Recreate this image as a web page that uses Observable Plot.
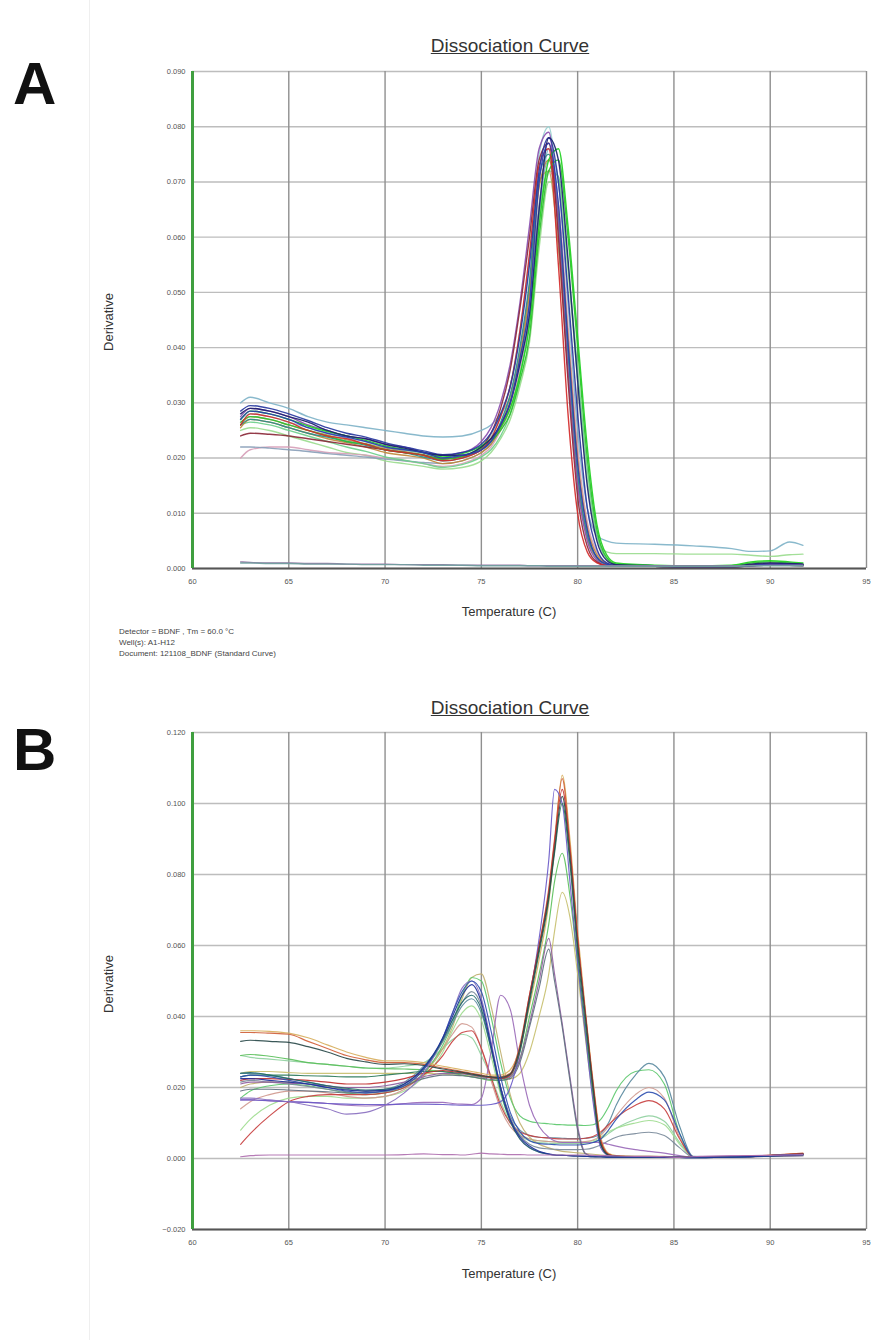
<!DOCTYPE html>
<html><head><meta charset="utf-8">
<script src="https://cdn.jsdelivr.net/npm/d3@7"></script>
<script src="https://cdn.jsdelivr.net/npm/@observablehq/plot@0.6"></script>
<style>
body{margin:0;background:#fff;font-family:"Liberation Sans",Arial,sans-serif;}
#page{position:relative;width:873px;height:1340px;overflow:hidden;background:#fff;}
.t{position:absolute;white-space:nowrap;color:#333;}
.svgwrap{position:absolute;left:0;}
</style></head>
<body><div id="page"></div>
<script>
// ---------- DATA (derivative values in units of 0.001) ----------
const xTicks = [60, 65, 70, 75, 80, 85, 90, 95];
const yTicksA = [0, 0.01, 0.02, 0.03, 0.04, 0.05, 0.06, 0.07, 0.08, 0.09];
const yTicksB = [-0.02, 0, 0.02, 0.04, 0.06, 0.08, 0.1, 0.12];
const UNIT = 0.001;

// Panel A temperatures
const tA = [62.5, 63, 64, 65, 66, 67, 68, 69, 70, 71, 72, 73, 74, 75, 75.5, 76, 76.5, 77, 77.5, 78, 78.5, 79, 79.5, 80, 80.5, 81, 81.5, 82, 84, 86, 88, 89, 90, 91, 91.7];
const a1 = [27, 28.5, 28, 27, 25.5, 24.5, 23.8, 23, 22, 21.5, 21, 20, 20.5, 21.5, 23, 26, 30, 38, 48, 70, 77, 66, 41, 19, 7, 2, 0.8, 0.5, 0.4, 0.3, 0.3, 0.5, 0.8, 0.7, 0.6];
const a2 = [26, 28, 27.5, 26.5, 25, 24, 23.5, 22.5, 21.5, 21, 20.5, 19.5, 20, 21.5, 23.5, 27.5, 33, 43, 57, 73, 76, 55, 28, 10, 3, 1, 0.5, 0.4, 0.4, 0.3, 0.3, 0.6, 0.9, 0.8, 0.7];
const a3 = [26.5, 27.5, 27, 26, 25, 24, 23, 22.5, 21.5, 21, 20.5, 19.8, 20.3, 21.8, 23, 25, 28, 34, 42, 60, 72, 74, 60, 40, 20, 7, 2, 0.8, 0.5, 0.4, 0.5, 1, 1.2, 1, 0.8];
const a4 = [27.5, 29, 28.5, 27.5, 26, 25, 24, 23.5, 22.5, 22, 21, 20.5, 21, 23, 25.5, 30, 37, 48, 62, 76, 79, 62, 36, 15, 5, 1.5, 0.6, 0.5, 0.4, 0.3, 0.3, 0.5, 0.6, 0.6, 0.5];
const a5 = [28, 29, 28.5, 27.5, 26.5, 25, 24, 23.5, 22.5, 21.8, 21, 20.5, 20.5, 22, 23.5, 26, 30, 37, 46, 65, 78, 74, 56, 34, 15, 5, 1.5, 0.7, 0.5, 0.4, 0.4, 0.8, 1, 0.9, 0.8];
const a6 = [26, 27, 26.5, 25.5, 24.5, 23.8, 23, 22.3, 21.5, 21, 20.2, 19.5, 20, 21.5, 23, 26.5, 31.5, 40, 52, 71, 75, 63, 39, 17, 6, 2, 0.7, 0.5, 0.4, 0.3, 0.3, 0.5, 0.7, 0.7, 0.6];
const a7 = [25.5, 27, 26.5, 25.5, 24.5, 23.5, 22.8, 22, 21, 20.5, 20, 19, 19.5, 21, 22.5, 25.5, 30, 38, 50, 69, 74, 64, 42, 20, 7.5, 2.5, 0.9, 0.5, 0.4, 0.3, 0.4, 0.6, 0.8, 0.7, 0.6];
const a8 = [30, 31, 30, 29, 27.5, 26.5, 26, 25.5, 25, 24.5, 24, 23.8, 24, 25, 26, 28, 31, 37, 46, 64, 76, 70, 48, 25, 11, 6, 5, 4.6, 4.4, 4.1, 3.6, 3.1, 3.2, 4.8, 4.2];
const a9 = [25, 25.5, 25, 24, 23, 22, 21, 20.5, 19.5, 19, 18.5, 18, 18.3, 19.5, 21, 23.5, 27, 33, 41, 58, 70, 70, 54, 34, 16, 6, 3, 2.7, 2.7, 2.6, 2.6, 2.4, 2.2, 2.5, 2.6];
const a10 = [20, 21.5, 22, 22, 21.5, 21, 20.8, 20.5, 20, 19.5, 19, 18.5, 19, 20.5, 22, 25, 29, 36, 46, 63, 72, 66, 44, 22, 8.5, 3, 1, 0.5, 0.4, 0.3, 0.3, 0.5, 0.6, 0.6, 0.5];
const a11 = [22, 22, 21.8, 21.5, 21.2, 20.8, 20.5, 20.2, 19.8, 19.5, 19.2, 19, 19.5, 21, 22.5, 25.5, 30, 37, 48, 66, 74, 62, 38, 17, 6, 2, 0.7, 0.5, 0.4, 0.3, 0.3, 0.5, 0.6, 0.6, 0.5];
const a12 = [24, 24.5, 24.3, 24, 23.5, 23, 22.5, 22, 21.5, 21, 20.5, 19.8, 20.3, 22, 24.5, 29, 36, 47, 60, 74, 77, 60, 34, 13, 4, 1.2, 0.5, 0.4, 0.4, 0.3, 0.3, 0.5, 0.8, 0.7, 0.6];
const a13 = [27, 28.5, 28, 27, 25.8, 24.8, 24, 23.2, 22.2, 21.6, 21, 20.2, 20.8, 22.2, 23.5, 25.5, 29, 35, 44, 62, 74, 76, 62, 42, 22, 8, 2.5, 1, 0.6, 0.5, 0.6, 1.2, 1.4, 1.2, 1];
const a14 = [28.5, 29.5, 29, 28, 26.8, 25.5, 24.5, 23.8, 22.8, 22, 21.3, 20.6, 21, 22.5, 24.5, 28, 33, 42, 55, 72, 78, 70, 50, 28, 11, 3.5, 1, 0.5, 0.4, 0.3, 0.3, 0.6, 0.8, 0.8, 0.7];
const a15 = [26, 27.5, 27, 26, 25, 24.2, 23.3, 22.6, 21.8, 21.2, 20.6, 19.8, 20.2, 21.5, 23, 26, 31, 39, 51, 70, 72, 58, 36, 16, 5.5, 1.8, 0.6, 0.4, 0.4, 0.3, 0.3, 0.5, 0.7, 0.6, 0.5];
const a16 = [26, 26.5, 26, 25, 24, 23, 22, 21.2, 20.2, 19.6, 19, 18.3, 18.8, 20.2, 21.5, 24, 28, 35, 45, 64, 72, 71, 55, 36, 18, 6, 1.8, 0.8, 0.5, 0.4, 0.4, 0.7, 0.9, 0.8, 0.7];
const a17 = [27, 28, 27.5, 26.5, 25.5, 24.5, 23.6, 23, 22, 21.4, 20.8, 20, 20.5, 22, 24, 27.5, 33, 43, 56, 75, 80, 65, 40, 18, 6.5, 2, 0.7, 0.5, 0.4, 0.3, 0.3, 0.5, 0.7, 0.6, 0.5];
const aCtrl1 = [1.2, 1.1, 1, 1, 0.9, 0.9, 0.8, 0.8, 0.8, 0.7, 0.7, 0.7, 0.6, 0.6, 0.6, 0.6, 0.6, 0.6, 0.5, 0.5, 0.5, 0.5, 0.5, 0.5, 0.5, 0.5, 0.5, 0.5, 0.5, 0.5, 0.5, 0.5, 0.6, 0.6, 0.6];
const aCtrl2 = [1, 1, 0.9, 0.9, 0.8, 0.8, 0.8, 0.7, 0.7, 0.7, 0.6, 0.6, 0.6, 0.5, 0.5, 0.5, 0.5, 0.5, 0.5, 0.5, 0.4, 0.4, 0.4, 0.4, 0.4, 0.4, 0.4, 0.4, 0.4, 0.4, 0.4, 0.5, 0.5, 0.5, 0.5];

// Panel B temperatures
const tB = [62.5, 63, 64, 65, 66, 67, 68, 69, 70, 71, 72, 73, 73.5, 74, 74.5, 75, 75.5, 76, 76.5, 77, 77.5, 78, 78.5, 78.8, 79.2, 79.6, 80, 80.4, 80.8, 81.2, 81.6, 82, 83, 83.7, 84.5, 85.3, 86, 88, 90, 91.7];
const b1 = [35.5, 35.5, 35.3, 35, 33, 31, 29, 27.8, 27, 27, 26.5, 25.5, 25, 24.5, 24, 23.5, 23, 23, 24, 32, 46, 60, 76, 90, 107, 88, 62, 41, 21, 5, 1.2, 0.7, 0.5, 0.5, 0.4, 0.3, 0.3, 0.5, 0.9, 1.5];
const b2 = [33, 33.3, 33, 32.7, 31.5, 30, 28.2, 27.2, 26.5, 26.7, 26.2, 25.2, 24.8, 24.3, 23.8, 23.3, 23, 22.8, 23.8, 31, 45, 59, 74, 87, 102, 85, 60, 40, 20, 4, 1, 0.6, 0.4, 0.4, 0.3, 0.3, 0.3, 0.5, 0.8, 1.2];
const b3 = [36, 36, 35.8, 35.3, 34, 32, 30, 28.5, 27.5, 27.5, 27, 26, 25.5, 25, 24.5, 24, 23.5, 23.5, 25, 31, 43, 56, 72, 88, 108, 90, 64, 42, 22, 6, 1.5, 0.8, 0.5, 0.4, 0.4, 0.3, 0.3, 0.5, 0.9, 1.4];
const b4 = [16.5, 16.5, 16.3, 16, 15.8, 15.5, 15.3, 15.2, 15.2, 15.3, 15.3, 15.2, 15.1, 15, 15, 15, 15.2, 16, 20, 30, 45, 62, 84, 104, 100, 78, 55, 35, 16, 3, 0.8, 0.5, 0.4, 0.4, 0.3, 0.3, 0.3, 0.5, 0.8, 1.2];
const b5 = [29, 29.3, 28.8, 28, 27, 26.5, 26, 25.5, 25.3, 25.2, 25, 24.5, 24, 23.5, 23, 22.5, 22, 22, 23, 28, 40, 52, 66, 78, 86, 74, 55, 36, 18, 4, 1, 0.6, 0.4, 0.4, 0.3, 0.3, 0.3, 0.5, 0.8, 1.2];
const b6 = [24, 24.5, 24.5, 24.2, 24, 24, 24, 24, 24, 24, 24, 23.8, 23.6, 23.4, 23.2, 23, 22.8, 22.5, 22.5, 24, 30, 40, 52, 64, 75, 68, 52, 34, 17, 4, 1, 0.6, 0.4, 0.4, 0.3, 0.3, 0.3, 0.5, 0.8, 1.2];
const b7 = [23, 23.5, 23.5, 23.5, 23.3, 23.2, 23, 23, 23.5, 24, 24.5, 24.5, 24.2, 24, 23.6, 23.2, 22.8, 22.5, 23.5, 30, 44, 58, 73, 86, 100, 83, 58, 38, 19, 4, 1, 0.6, 0.4, 0.4, 0.3, 0.3, 0.3, 0.5, 0.8, 1.3];
const b8 = [22, 22.5, 22.5, 22.3, 22, 21.5, 21, 21, 21.5, 22.5, 24, 24.8, 24.5, 24.2, 23.8, 23.3, 22.8, 22.5, 23.5, 31, 46, 60, 75, 89, 104, 87, 62, 41, 21, 5, 1.2, 0.7, 0.5, 0.4, 0.3, 0.3, 0.3, 0.5, 0.9, 1.4];
const b9 = [21, 21.5, 21.5, 21.2, 21, 20.5, 20, 20, 20.5, 21.5, 23, 24, 24, 23.8, 23.5, 23, 22.8, 22.5, 23, 28, 38, 50, 62, 52, 38, 23, 9, 1.5, 0.6, 0.5, 0.4, 0.3, 0.3, 0.3, 0.3, 0.3, 0.3, 0.4, 0.6, 0.8];
const b10 = [19, 19.5, 19.5, 19.3, 19, 18.8, 18.5, 18.5, 19, 20.5, 22.5, 23.5, 23.5, 23.3, 23, 22.6, 22.3, 22, 22.5, 27, 37, 48, 59, 50, 37, 22, 8, 1.3, 0.6, 0.5, 0.4, 0.3, 0.3, 0.3, 0.3, 0.3, 0.3, 0.4, 0.6, 0.8];
const c1 = [22.5, 22.5, 22, 21.5, 21, 20, 19.3, 19, 19.2, 21, 25.5, 34, 40, 46, 49, 44, 32, 20, 11, 6, 3.5, 2, 1.3, 1, 0.9, 0.8, 0.7, 0.6, 0.5, 0.5, 0.4, 0.4, 0.4, 0.4, 0.3, 0.3, 0.2, 0.4, 0.7, 1.1];
const c2 = [17, 19, 20.5, 21, 20.5, 19.5, 18.5, 18, 18.5, 20, 24, 32, 38, 46, 51, 50, 40, 27, 17, 12, 10.5, 10, 9.8, 9.6, 9.5, 9.4, 9.4, 9.3, 9.5, 11, 14.5, 19, 24.5, 25, 21, 7, 0.5, 0.4, 0.8, 1.2];
const c3 = [24, 24, 23.5, 22.5, 21.5, 20.5, 19.5, 19, 19.5, 21.5, 26, 33, 38, 43, 45, 41, 31, 20, 12, 8, 6.5, 6, 5.8, 5.8, 5.7, 5.6, 5.6, 5.7, 6, 7, 10, 15, 23.5, 26.8, 23, 9, 0.6, 0.4, 0.8, 1.2];
const c4 = [14, 16, 18, 19, 19, 18.5, 17.5, 17, 17.5, 19.5, 24, 31, 35, 38, 37, 31, 22, 14, 9, 6.5, 5.5, 5, 4.8, 4.7, 4.6, 4.6, 4.6, 4.8, 5.2, 6.5, 9, 12, 18, 20, 17, 6, 0.5, 0.4, 0.7, 1.1];
const c5 = [23, 23.5, 23, 22, 21, 20, 19, 18.5, 19, 20.5, 25, 34, 41, 47, 50, 47, 36, 23, 13, 7.5, 5, 4.2, 4, 3.9, 3.8, 3.8, 3.8, 4, 4.5, 5.5, 8, 11, 16.5, 18.7, 16.5, 7, 0.5, 0.4, 0.8, 1.2];
const c6 = [4, 7, 12, 16, 17.5, 18, 18, 18, 18.5, 20, 23.5, 29, 33, 35.5, 36, 31, 23, 15, 10, 7.5, 6.5, 6, 5.8, 5.6, 5.5, 5.5, 5.5, 5.7, 6.2, 7.5, 9.5, 11.5, 15, 16.3, 14, 5.5, 0.5, 0.4, 0.8, 1.3];
const c7 = [8, 11, 15, 17, 17.5, 17.5, 17, 17, 17.5, 19, 23, 30, 36, 41, 43, 39, 29, 18, 11, 7, 5.5, 5, 4.8, 4.7, 4.6, 4.6, 4.6, 4.7, 5, 6, 7.5, 8.5, 10, 10.7, 9.5, 4, 0.5, 0.4, 0.8, 1.2];
const c8 = [17, 17, 16.5, 16, 15, 14, 12.5, 13, 15, 18.5, 24, 34, 41, 48, 50, 45, 33, 20, 11, 5.5, 3, 1.8, 1.2, 1, 0.9, 0.8, 0.7, 0.6, 0.5, 0.5, 0.4, 0.4, 0.4, 0.4, 0.3, 0.3, 0.2, 0.4, 0.7, 1.1];
const c9 = [21.5, 22, 21.5, 21, 20.3, 19.5, 18.8, 18.5, 18.8, 20.5, 25, 33, 39, 44, 47, 43, 32, 20, 11.5, 6.5, 4, 3, 2.7, 2.6, 2.5, 2.5, 2.5, 2.6, 3, 3.8, 5, 6, 7, 7.4, 6.5, 3, 0.4, 0.4, 0.7, 1.1];
const c10 = [16.5, 16.5, 16.2, 16, 15.8, 15.5, 15, 14.8, 15, 15.5, 15.8, 15.8, 15.5, 15.3, 15.2, 17, 30, 46, 42, 27, 15, 9, 6, 5, 4.5, 4.5, 4.5, 4.5, 4.5, 4.5, 4, 3.5, 2.5, 2, 1.5, 0.8, 0.4, 0.4, 0.7, 1.1];
const c11 = [20, 21, 21.5, 21.5, 21, 20.3, 19.5, 19, 19.3, 20.5, 24, 31, 37, 45, 51, 52, 43, 30, 18, 10, 6, 4, 3, 2.5, 2, 1.8, 1.6, 1.4, 1.2, 1, 0.9, 0.8, 0.7, 0.7, 0.6, 0.4, 0.3, 0.4, 0.8, 1.2];
const c12 = [24, 24.2, 23.5, 22.5, 21.5, 20.5, 19.8, 19.3, 19.5, 21, 25.5, 33.5, 39, 44, 46, 42, 31, 19, 10.5, 5.5, 3, 1.8, 1.2, 1, 0.9, 0.8, 0.7, 0.6, 0.5, 0.5, 0.4, 0.4, 0.4, 0.4, 0.3, 0.3, 0.2, 0.4, 0.7, 1.1];
const c13 = [29, 28.5, 28, 27.5, 27, 26.5, 26, 25.5, 25.5, 26, 27, 31, 33.5, 35, 34, 29, 23, 16, 10, 6.5, 5, 4.5, 4.3, 4.2, 4.2, 4.2, 4.2, 4.3, 4.6, 5.5, 7, 8.5, 11, 12, 10.5, 4.5, 0.5, 0.4, 0.8, 1.2];
const bCtrl = [0.5, 0.8, 1, 1, 1, 1, 1, 1, 1, 1.1, 1.3, 1.1, 1.1, 1, 1.2, 1.5, 1.3, 1.2, 1.1, 1.1, 1, 1, 1, 1, 1, 1, 1, 1, 0.9, 0.8, 0.8, 0.7, 0.6, 0.6, 0.5, 0.3, 0.5, 0.8, 0.9, 1.1];

const seriesA = [
  ["A8", "#7fb3c8", a8], ["A9", "#9bdc8f", a9], ["A10", "#d7a0b8", a10], ["A11", "#8aa0b8", a11],
  ["A17", "#9ad0d0", a17], ["A16", "#6ccf8a", a16], ["A15", "#b0a060", a15], ["A7", "#c08a3a", a7],
  ["A6", "#2a8c8c", a6], ["A4", "#8a4fb0", a4], ["A12", "#8b2a3a", a12], ["A3", "#2fbf2f", a3],
  ["A13", "#1fd01f", a13], ["A2", "#d42a2a", a2], ["A14", "#2838a0", a14], ["A5", "#1c2070", a5],
  ["A1", "#2b3bb0", a1], ["Ac1", "#9070a0", aCtrl1], ["Ac2", "#70a0a0", aCtrl2]
];
const seriesB = [
  ["C13", "#90d0a0", c13], ["C7", "#a0dc90", c7], ["C4", "#d09a90", c4], ["B6", "#c8c070", b6],
  ["C11", "#c0b070", c11], ["B5", "#5cc05c", b5], ["C2", "#5cc86c", c2], ["C3", "#5a8aa0", c3],
  ["C6", "#c84040", c6], ["C9", "#7a8a9a", c9], ["C10", "#9a6ab8", c10], ["B9", "#9060a0", b9],
  ["B10", "#607080", b10], ["B3", "#d8b060", b3], ["B1", "#d0603a", b1], ["B4", "#6a5ac8", b4],
  ["B7", "#2a7a5a", b7], ["B8", "#c03030", b8], ["B2", "#2a4a4a", b2], ["C8", "#8a70c0", c8],
  ["C5", "#3050b0", c5], ["C12", "#206a6a", c12], ["C1", "#20309a", c1], ["Bc", "#b070b0", bCtrl]
];

const caption = ["Detector = BDNF , Tm = 60.0 \u00B0C", "Well(s): A1-H12", "Document: 121108_BDNF (Standard Curve)"];

// ---------- BUILD ----------
function rowsOf(temps, series) {
  const rows = [];
  for (const [id, color, vals] of series) {
    if (vals.length !== temps.length) throw new Error(id + " has " + vals.length + " values, expected " + temps.length);
    vals.forEach((v, i) => rows.push({t: temps[i], v: v * UNIT, id, color}));
  }
  return rows;
}

function panel(temps, series, yDomain, yTicks, marginRight, lineWidth) {
  return Plot.plot({
    width: 873, height: 600,
    marginTop: 71, marginBottom: 32, marginLeft: 192, marginRight,
    x: {domain: [60, 95]},
    y: {domain: yDomain},
    color: {type: "identity"},
    style: {fontFamily: "'Liberation Sans', Arial, sans-serif", fontSize: "7.5px", color: "#555", background: "transparent", overflow: "visible"},
    marks: [
      Plot.gridY(yTicks, {stroke: "#bdbdbd", strokeOpacity: 1, strokeWidth: 1.4}),
      Plot.gridX(xTicks, {stroke: "#8f8f8f", strokeOpacity: 1, strokeWidth: 1.4}),
      Plot.axisX(xTicks, {tickSize: 0, tickPadding: 10, label: null, fill: "#555", tickFormat: d => String(d)}),
      Plot.axisY(yTicks, {tickSize: 0, tickPadding: 7, label: null, fill: "#555", tickFormat: d3.format(".3f")}),
      Plot.line(rowsOf(temps, series), {x: "t", y: "v", z: "id", stroke: "color", strokeWidth: lineWidth, strokeOpacity: 0.92, curve: "monotone-x"}),
      Plot.ruleY([yDomain[0]], {stroke: "#555", strokeWidth: 1.8}),
      Plot.ruleX([60], {stroke: "#3f9f3f", strokeWidth: 3})
    ]
  });
}

const page = document.getElementById("page");
function addText(txt, css) {
  const d = document.createElement("div");
  d.className = "t";
  d.textContent = txt;
  Object.assign(d.style, css);
  page.appendChild(d);
  return d;
}
function addPlot(svg, top) {
  const w = document.createElement("div");
  w.className = "svgwrap";
  w.style.top = top + "px";
  w.appendChild(svg);
  page.appendChild(w);
}

// faint figure frame line
const fr = document.createElement("div");
Object.assign(fr.style, {position: "absolute", left: "89px", top: "0px", width: "1px", height: "1340px", background: "#efefef"});
page.appendChild(fr);

function decorate(offset, letter, letterShift) {
  addText(letter, {left: "13px", top: (54 + offset + letterShift) + "px", fontSize: "60px", fontWeight: "bold", lineHeight: "60px", color: "#111"});
  addText("Dissociation Curve", {left: "510px", top: (46 + offset) + "px", transform: "translate(-50%,-50%)", fontSize: "19px", textDecoration: "underline", color: "#333", lineHeight: "22px"});
  addText("Derivative", {left: "108px", top: (321.5 + offset) + "px", transform: "translate(-50%,-50%) rotate(-90deg)", fontSize: "13px", color: "#333", lineHeight: "15px"});
  addText("Temperature (C)", {left: "509px", top: (611 + offset) + "px", transform: "translate(-50%,-50%)", fontSize: "13px", color: "#333", lineHeight: "15px"});
}

addPlot(panel(tA, seriesA, [0, 0.09], yTicksA, 7, 1.4), 0);
addPlot(panel(tB, seriesB, [-0.02, 0.12], yTicksB, 7, 1.15), 661);
decorate(0, "A", 0);
decorate(662, "B", 4);
caption.forEach((line, i) => addText(line, {left: "119px", top: (625.5 + i * 11) + "px", fontSize: "8px", lineHeight: "11px", color: "#444"}));
</script>
</body></html>
